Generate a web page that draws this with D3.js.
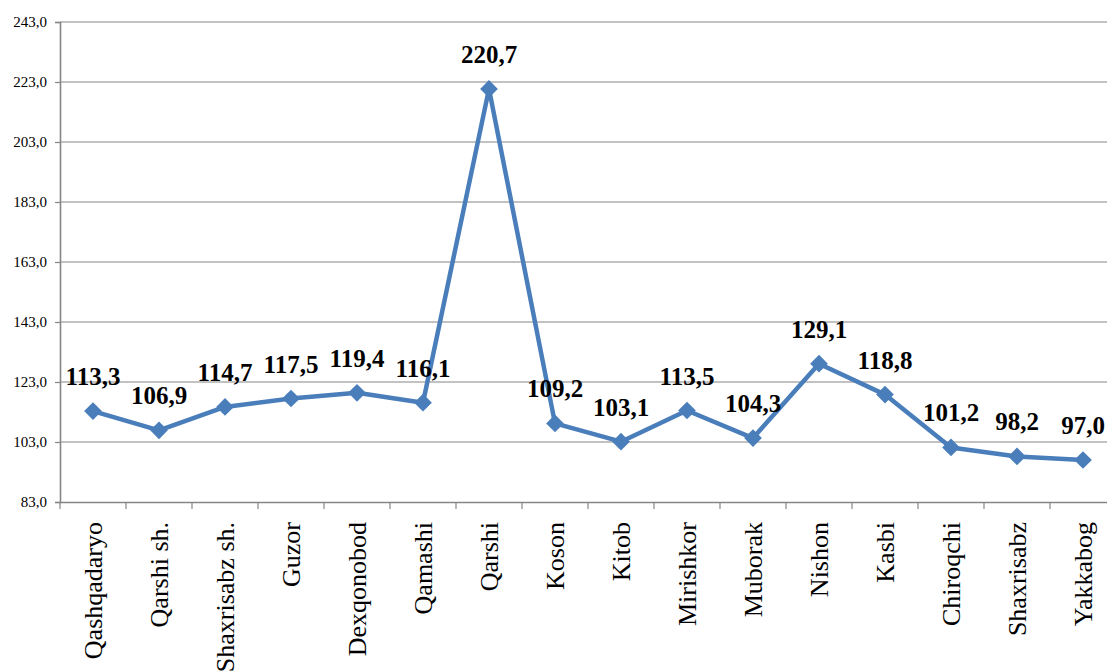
<!DOCTYPE html>
<html><head><meta charset="utf-8">
<script src="https://cdn.jsdelivr.net/npm/d3@7"></script>
<style>body{margin:0;background:#fff}svg{display:block}
text{font-family:"Liberation Serif","Times New Roman",Times,Tinos,"DejaVu Serif",serif !important;}</style>
</head><body>
<svg id="c" width="1107" height="671"></svg>
<script>
const categories = ["Qashqadaryo","Qarshi sh.","Shaxrisabz sh.","Guzor","Dexqonobod","Qamashi","Qarshi","Koson","Kitob","Mirishkor","Muborak","Nishon","Kasbi","Chiroqchi","Shaxrisabz","Yakkabog"];
const values = [113.3,106.9,114.7,117.5,119.4,116.1,220.7,109.2,103.1,113.5,104.3,129.1,118.8,101.2,98.2,97.0];
const yTicks = [83,103,123,143,163,183,203,223,243];

const svg = d3.select("#c");
const L = 60, R = 1116, T = 22, B = 502;
const x = d3.scaleBand().domain(categories).range([L, R]).padding(0);
const y = d3.scaleLinear().domain([83, 243]).range([B, T]);
const fmt = v => v.toFixed(1).replace(".", ",");
const grey = "#868686";

// gridlines
svg.append("g").selectAll("line").data(yTicks.slice(1)).join("line")
  .attr("x1", L).attr("x2", R).attr("y1", d => y(d)).attr("y2", d => y(d))
  .attr("stroke", grey).attr("stroke-width", 1.2);

// y axis
const ya = svg.append("g").attr("transform", `translate(${L},0)`)
  .call(d3.axisLeft(y).tickValues(yTicks).tickFormat(fmt).tickSize(5).tickPadding(8));
ya.select(".domain").attr("stroke", grey).attr("stroke-width", 1.6);
ya.selectAll(".tick line").attr("stroke", grey).attr("stroke-width", 1.2);
ya.selectAll(".tick text").attr("font-size", 15).attr("fill", "#000");

// x axis
const xa = svg.append("g").attr("transform", `translate(0,${B})`)
  .call(d3.axisBottom(x).tickSize(0).tickFormat(""));
xa.select(".domain").attr("stroke", grey).attr("stroke-width", 1.6);
svg.append("g").selectAll("line").data(categories.map((c,i)=>i).concat([categories.length])).join("line")
  .attr("x1", i => L + i * x.step()).attr("x2", i => L + i * x.step())
  .attr("y1", B).attr("y2", B + 7).attr("stroke", grey).attr("stroke-width", 1.2);

// category labels
svg.append("g").selectAll("text").data(categories).join("text")
  .attr("transform", d => `translate(${x(d) + x.bandwidth()/2},${B + 20}) rotate(-90)`)
  .attr("text-anchor", "end").attr("dy", "0.35em")
  .attr("font-size", 26)
  .attr("fill", "#000").text(d => d);

// line
const cx = (d,i) => x(categories[i]) + x.bandwidth()/2;
svg.append("path").datum(values)
  .attr("d", d3.line().x(cx).y(d => y(d)))
  .attr("fill", "none").attr("stroke", "#4a7ebb").attr("stroke-width", 4.5).attr("stroke-linejoin", "round");

// markers
svg.append("g").selectAll("path").data(values).join("path")
  .attr("transform", (d,i) => `translate(${cx(d,i)},${y(d)})`)
  .attr("d", d3.symbol(d3.symbolDiamond2, 200)())
  .attr("fill", "#4a7ebb");

// data labels
svg.append("g").selectAll("text").data(values).join("text")
  .attr("x", cx).attr("y", d => y(d) - 26)
  .attr("text-anchor", "middle")
  .attr("font-weight", "bold")
  .attr("font-size", 25).attr("fill", "#000").text(fmt);
</script>
</body></html>
